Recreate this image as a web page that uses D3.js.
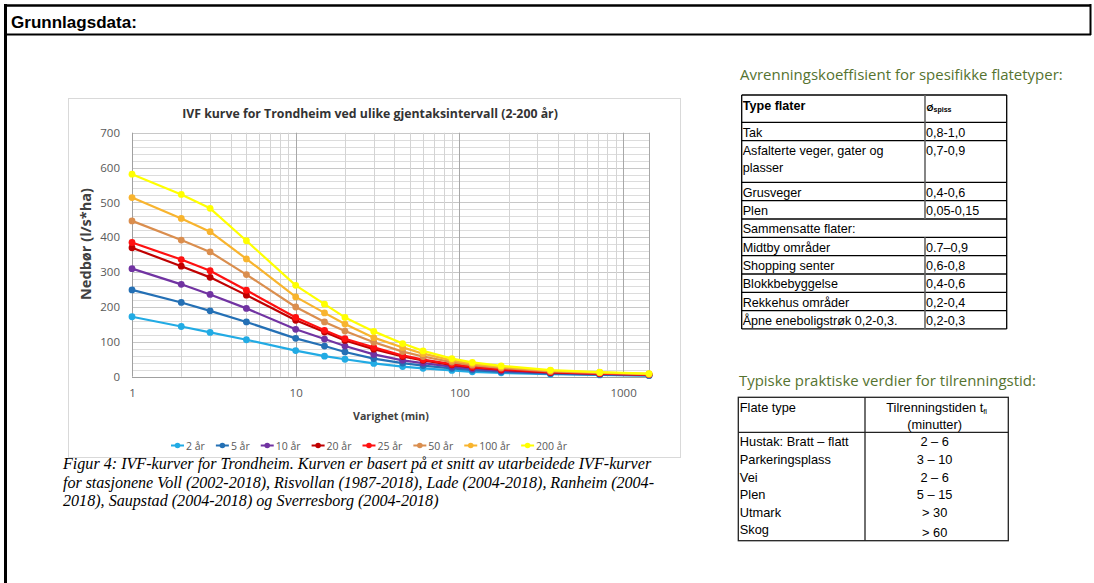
<!DOCTYPE html>
<html>
<head>
<meta charset="utf-8">
<script src="https://cdn.jsdelivr.net/npm/d3@7/dist/d3.min.js"></script>
<style>
  html, body { margin: 0; padding: 0; background: #fff; }
  svg { display: block; }
</style>
</head>
<body>
<svg id="page" width="1094" height="583"></svg>
<script>
// ---- IVF data: rainfall intensity (l/s*ha) per duration (min) and return period ----
const durations = [1, 2, 3, 5, 10, 15, 20, 30, 45, 60, 90, 120, 180, 360, 720, 1440];
const seriesNames = ["2 år", "5 år", "10 år", "20 år", "25 år", "50 år", "100 år", "200 år"];
const seriesColors = ["#22ABE4", "#2470B5", "#7133A2", "#C00000", "#FF1010", "#DA8E4E", "#F8B42E", "#FFFF00"];
const vals2 = [172, 144, 127, 106, 75, 59, 50, 38, 29, 24, 18, 14, 11, 7, 5, 3];
const vals5 = [249, 213, 189, 157, 110, 88, 71, 52, 39, 32, 24, 19, 14, 9, 6, 4];
const vals10 = [310, 265, 236, 196, 136, 108, 88, 64, 47, 39, 29, 23, 17, 11, 8, 5];
const vals20 = [370, 317, 285, 234, 162, 128, 104, 79, 58, 47, 34, 27, 20, 12, 9, 6];
const vals25 = [385, 336, 304, 248, 170, 133, 109, 84, 61, 49, 36, 28, 21, 13, 9, 6];
const vals50 = [447, 392, 358, 293, 200, 157, 131, 99, 72, 58, 42, 33, 25, 15, 11, 7];
const vals100 = [514, 454, 416, 338, 229, 183, 151, 112, 84, 66, 47, 37, 28, 17, 12, 8];
const vals200 = [581, 523, 483, 390, 262, 208, 170, 130, 95, 74, 52, 41, 31, 19, 13, 9];
const seriesValues = [vals2, vals5, vals10, vals20, vals25, vals50, vals100, vals200];
const yTicks = [0, 100, 200, 300, 400, 500, 600, 700];
const xTickLabels = [1, 10, 100, 1000];

const chartTitle = "IVF kurve for Trondheim ved ulike gjentaksintervall (2-200 år)";
const xTitle = "Varighet (min)";
const yTitle = "Nedbør (l/s*ha)";
const captionLines = [
  "Figur 4: IVF-kurver for Trondheim. Kurven er basert på et snitt av utarbeidede IVF-kurver",
  "for stasjonene Voll (2002-2018), Risvollan (1987-2018), Lade (2004-2018), Ranheim (2004-",
  "2018), Saupstad (2004-2018) og Sverresborg (2004-2018)"
];

// ---- runoff coefficient table ----
const coefHeader = ["Type flater", "Ø", "spiss"];
const coefRows = [
  ["Tak", "0,8-1,0"],
  ["Asfalterte veger, gater og|plasser", "0,7-0,9"],
  ["Grusveger", "0,4-0,6"],
  ["Plen", "0,05-0,15"],
  ["Sammensatte flater:", null],
  ["Midtby områder", "0.7–0,9"],
  ["Shopping senter", "0,6-0,8"],
  ["Blokkbebyggelse", "0,4-0,6"],
  ["Rekkehus områder", "0,2-0,4"],
  ["Åpne eneboligstrøk 0,2-0,3.", "0,2-0,3"]
];
// ---- time of concentration table ----
const tcHeader = ["Flate type", "Tilrenningstiden t", "fl", "(minutter)"];
const tcRows = [
  ["Hustak: Bratt – flatt", "2 – 6"],
  ["Parkeringsplass", "3 – 10"],
  ["Vei", "2 – 6"],
  ["Plen", "5 – 15"],
  ["Utmark", "> 30"],
  ["Skog", "> 60"]
];

const svg = d3.select("#page");
const sansUI = "'Open Sans', 'Noto Sans', sans-serif";
const arial = "'Liberation Sans', Arial, sans-serif";
const serif = "'Liberation Serif', 'Times New Roman', serif";

// scale a text's font size so it spans the wanted width
function fitText(sel, width) {
  const node = sel.node();
  const fs = parseFloat(sel.attr("font-size"));
  const w = node.getComputedTextLength();
  if (w > 0) sel.attr("font-size", (fs * width / w).toFixed(2));
  return sel;
}

// ---- page frame ----
const frame = svg.append("g").attr("stroke", "#000");
frame.append("line").attr("x1", 5.5).attr("x2", 5.5).attr("y1", 4).attr("y2", 583).attr("stroke-width", 3);
frame.append("line").attr("x1", 4).attr("x2", 1091).attr("y1", 5.5).attr("y2", 5.5).attr("stroke-width", 2.5);
frame.append("line").attr("x1", 5).attr("x2", 1091).attr("y1", 34.5).attr("y2", 34.5).attr("stroke-width", 2);
frame.append("line").attr("x1", 1090.5).attr("x2", 1090.5).attr("y1", 4).attr("y2", 35).attr("stroke-width", 2);

fitText(svg.append("text").attr("x", 11).attr("y", 27.5)
  .attr("font-family", arial).attr("font-weight", "bold").attr("font-size", 16)
  .attr("fill", "#000").text("Grunnlagsdata:"), 126);

// ---- chart ----
const chart = svg.append("g");
chart.append("rect").attr("x", 68.5).attr("y", 98.5).attr("width", 612).attr("height", 359)
  .attr("fill", "#fff").attr("stroke", "#d9d9d9").attr("stroke-width", 1);

const plot = { left: 132, right: 649, top: 132.7, bottom: 376.7 };
const x = d3.scaleLog().domain([1, 1440]).range([plot.left, plot.right]);
const y = d3.scaleLinear().domain([0, 700]).range([plot.bottom, plot.top]);

// horizontal gridlines (minor every 20, major every 100)
const grid = chart.append("g");
grid.selectAll("line.h").data(d3.range(0, 701, 20)).join("line")
  .attr("x1", plot.left).attr("x2", plot.right)
  .attr("y1", d => Math.round(y(d)) + 0.5).attr("y2", d => Math.round(y(d)) + 0.5)
  .attr("stroke", d => d % 100 === 0 ? "#c8c8c8" : "#dcdcdc").attr("stroke-width", 1);

// vertical gridlines on the log axis
const vMinor = [];
[1, 10, 100, 1000].forEach(dec => {
  for (let k = 2; k <= 9; k++) if (k * dec < 1440) vMinor.push(k * dec);
});
grid.selectAll("line.vm").data(vMinor).join("line")
  .attr("x1", d => Math.round(x(d)) + 0.5).attr("x2", d => Math.round(x(d)) + 0.5)
  .attr("y1", plot.top).attr("y2", plot.bottom)
  .attr("stroke", "#d4d4d4").attr("stroke-width", 1);
grid.selectAll("line.vM").data([10, 100, 1000, 1440]).join("line")
  .attr("x1", d => Math.round(x(d)) + 0.5).attr("x2", d => Math.round(x(d)) + 0.5)
  .attr("y1", plot.top).attr("y2", plot.bottom)
  .attr("stroke", "#a8a8a8").attr("stroke-width", 1);
// axis lines
grid.append("line").attr("x1", plot.left + 0.5).attr("x2", plot.left + 0.5)
  .attr("y1", plot.top).attr("y2", plot.bottom).attr("stroke", "#a0a0a0");
grid.append("line").attr("x1", plot.left).attr("x2", plot.right)
  .attr("y1", Math.round(y(0)) + 0.5).attr("y2", Math.round(y(0)) + 0.5).attr("stroke", "#a0a0a0");

// axes (labels only)
const yAxis = chart.append("g").attr("transform", `translate(${plot.left},0)`)
  .call(d3.axisLeft(y).tickValues(yTicks).tickSize(0).tickPadding(12));
yAxis.select(".domain").remove();
yAxis.selectAll("text").attr("font-family", sansUI).attr("font-size", 11.5).attr("fill", "#595959");

const xAxis = chart.append("g").attr("transform", `translate(0,${plot.bottom})`)
  .call(d3.axisBottom(x).tickValues(xTickLabels).tickFormat(d3.format("d")).tickSize(0).tickPadding(12));
xAxis.select(".domain").remove();
xAxis.selectAll("text").attr("font-family", sansUI).attr("font-size", 11.5).attr("fill", "#595959");

// titles
fitText(chart.append("text").attr("x", 370).attr("y", 118).attr("text-anchor", "middle")
  .attr("font-family", sansUI).attr("font-weight", "bold").attr("font-size", 13)
  .attr("fill", "#333").text(chartTitle), 376);
fitText(chart.append("text").attr("x", 391).attr("y", 420).attr("text-anchor", "middle")
  .attr("font-family", sansUI).attr("font-weight", "bold").attr("font-size", 11.5)
  .attr("fill", "#404040").text(xTitle), 76);
fitText(chart.append("text").attr("transform", "translate(91,244) rotate(-90)").attr("text-anchor", "middle")
  .attr("font-family", sansUI).attr("font-weight", "bold").attr("font-size", 11.5)
  .attr("fill", "#404040").text(yTitle), 112);

// series
const line = d3.line().x(d => x(d.t)).y(d => y(d.v));
const series = seriesNames.map((name, i) => ({
  name, color: seriesColors[i],
  points: durations.map((t, j) => ({ t, v: seriesValues[i][j] }))
}));
const sg = chart.append("g").selectAll("g").data(series).join("g");
sg.append("path").attr("d", d => line(d.points)).attr("fill", "none")
  .attr("stroke", d => d.color).attr("stroke-width", 2.2).attr("stroke-linejoin", "round");
sg.selectAll("circle").data(d => d.points.map(p => ({ ...p, color: d.color }))).join("circle")
  .attr("cx", d => x(d.t)).attr("cy", d => y(d.v)).attr("r", 3.4).attr("fill", d => d.color);

// legend
const legend = chart.append("g");
const legItems = legend.selectAll("g").data(series).join("g");
legItems.append("line").attr("x1", 0).attr("x2", 13).attr("y1", 0).attr("y2", 0)
  .attr("stroke", d => d.color).attr("stroke-width", 2);
legItems.append("circle").attr("cx", 6.5).attr("cy", 0).attr("r", 2.8).attr("fill", d => d.color);
legItems.append("text").attr("x", 15).attr("y", 4).attr("font-family", sansUI).attr("font-size", 10.5)
  .attr("fill", "#595959").text(d => d.name);
let lx = 0;
const legGap = 11;
legItems.each(function () {
  const g = d3.select(this);
  g.attr("data-x", lx);
  lx += 15 + g.select("text").node().getComputedTextLength() + legGap;
});
const legTotal = lx - legGap;
const legStart = 369 - legTotal / 2;
legItems.attr("transform", function () {
  return `translate(${legStart + +d3.select(this).attr("data-x")},445.5)`;
});

// caption
captionLines.forEach((t, i) => {
  const txt = svg.append("text").attr("x", 63).attr("y", 469 + i * 18.6)
    .attr("font-family", serif).attr("font-style", "italic").attr("font-size", 14.5)
    .attr("fill", "#000").text(t);
  if (i === 0) fitText(txt, 589);
  if (i === 1) txt.attr("font-size", svg.select("text:last-of-type").attr("font-size"));
});
// keep caption lines on a shared size, justify the second one
{
  const caps = svg.selectAll("text").filter(function () { return d3.select(this).attr("font-family") === serif; });
  const fs = caps.nodes()[0].getAttribute("font-size");
  caps.attr("font-size", fs);
  d3.select(caps.nodes()[1]).attr("textLength", 591).attr("lengthAdjust", "spacing");
}

// ---- runoff coefficient table ----
const green = "#557330";
fitText(svg.append("text").attr("x", 740).attr("y", 80)
  .attr("font-family", sansUI).attr("font-size", 14).attr("fill", green)
  .text("Avrenningskoeffisient for spesifikke flatetyper:"), 323);

const t1 = svg.append("g");
const t1Left = 741.7, t1Right = 1006.7, t1Col = 925, t1Top = 95;
const t1Heights = [27.3].concat(coefRows.map(r => r[0].includes("|") ? 41.7 : 18.33));
const t1Y = [t1Top];
t1Heights.forEach(h => t1Y.push(t1Y[t1Y.length - 1] + h));
// row lines
t1.selectAll("line.row").data(t1Y).join("line")
  .attr("x1", t1Left).attr("x2", t1Right).attr("y1", d => d).attr("y2", d => d)
  .attr("stroke", "#000").attr("stroke-width", 1.3);
t1.append("line").attr("x1", t1Left).attr("x2", t1Left).attr("y1", t1Top).attr("y2", t1Y[t1Y.length - 1])
  .attr("stroke", "#000").attr("stroke-width", 1.3);
t1.append("line").attr("x1", t1Right).attr("x2", t1Right).attr("y1", t1Top).attr("y2", t1Y[t1Y.length - 1])
  .attr("stroke", "#000").attr("stroke-width", 1.3);
// column divider, open on the "Sammensatte flater" row
coefRows.forEach((r, i) => {
  if (r[1] === null) return;
  t1.append("line").attr("x1", t1Col).attr("x2", t1Col).attr("y1", t1Y[i + 1]).attr("y2", t1Y[i + 2])
    .attr("stroke", "#666").attr("stroke-width", 1.6);
});
t1.append("line").attr("x1", t1Col).attr("x2", t1Col).attr("y1", t1Y[0]).attr("y2", t1Y[1])
  .attr("stroke", "#666").attr("stroke-width", 1.6);

t1.append("text").attr("x", t1Left + 1).attr("y", t1Top + 15).attr("font-family", arial)
  .attr("font-weight", "bold").attr("font-size", 12.6).attr("fill", "#000").text(coefHeader[0]);
const hdr2 = t1.append("text").attr("x", t1Col + 1.5).attr("y", t1Top + 15.5).attr("font-family", arial)
  .attr("font-weight", "bold").attr("fill", "#000");
hdr2.append("tspan").attr("font-size", 9).text(coefHeader[1]);
hdr2.append("tspan").attr("font-size", 7).attr("dy", 1.5).text(coefHeader[2]);

coefRows.forEach((r, i) => {
  const top = t1Y[i + 1], bot = t1Y[i + 2];
  const lines = r[0].split("|");
  lines.forEach((s, k) => {
    const yy = lines.length > 1 ? top + 14 + k * 17.7 : bot - 4;
    t1.append("text").attr("x", t1Left + 1).attr("y", yy).attr("font-family", arial)
      .attr("font-size", 12.6).attr("fill", "#000").text(s);
  });
  if (r[1] !== null) {
    t1.append("text").attr("x", t1Col + 1).attr("y", lines.length > 1 ? top + 14 : bot - 4)
      .attr("font-family", arial).attr("font-size", 12.6).attr("fill", "#000").text(r[1]);
  }
});

// ---- time of concentration table ----
fitText(svg.append("text").attr("x", 739).attr("y", 386)
  .attr("font-family", sansUI).attr("font-size", 14).attr("fill", green)
  .text("Typiske praktiske verdier for tilrenningstid:"), 297);

const t2 = svg.append("g");
const t2Left = 738.3, t2Right = 1008.3, t2Col = 865, t2Top = 397.3, t2Head = 432.3, t2Bot = 540.7;
t2.append("rect").attr("x", t2Left).attr("y", t2Top).attr("width", t2Right - t2Left).attr("height", t2Bot - t2Top)
  .attr("fill", "none").attr("stroke", "#222").attr("stroke-width", 1.3);
t2.append("line").attr("x1", t2Col).attr("x2", t2Col).attr("y1", t2Top).attr("y2", t2Bot)
  .attr("stroke", "#222").attr("stroke-width", 1.3);
t2.append("line").attr("x1", t2Left).attr("x2", t2Right).attr("y1", t2Head).attr("y2", t2Head)
  .attr("stroke", "#222").attr("stroke-width", 1.3);

const colMid = (t2Col + t2Right) / 2;
t2.append("text").attr("x", t2Left + 1.5).attr("y", t2Top + 15).attr("font-family", arial)
  .attr("font-size", 12.8).attr("fill", "#000").text(tcHeader[0]);
const h2 = t2.append("text").attr("x", colMid).attr("y", t2Top + 15).attr("text-anchor", "middle")
  .attr("font-family", arial).attr("font-size", 12.8).attr("fill", "#000");
h2.append("tspan").text(tcHeader[1]);
h2.append("tspan").attr("font-size", 7.5).attr("dy", 1.5).text(tcHeader[2]);
t2.append("text").attr("x", colMid - 2).attr("y", t2Top + 31.5).attr("text-anchor", "middle")
  .attr("font-family", arial).attr("font-size", 12.8).attr("fill", "#000").text(tcHeader[3]);

tcRows.forEach((r, i) => {
  const yy = t2Head + 14 + i * 17.6;
  t2.append("text").attr("x", t2Left + 1.5).attr("y", yy).attr("font-family", arial)
    .attr("font-size", 12.8).attr("fill", "#000").text(r[0]);
  t2.append("text").attr("x", colMid - 2).attr("y", yy + (i === tcRows.length - 1 ? 3 : 0))
    .attr("text-anchor", "middle").attr("font-family", arial)
    .attr("font-size", 12.8).attr("fill", "#000").text(r[1]);
});
</script>
</body>
</html>
